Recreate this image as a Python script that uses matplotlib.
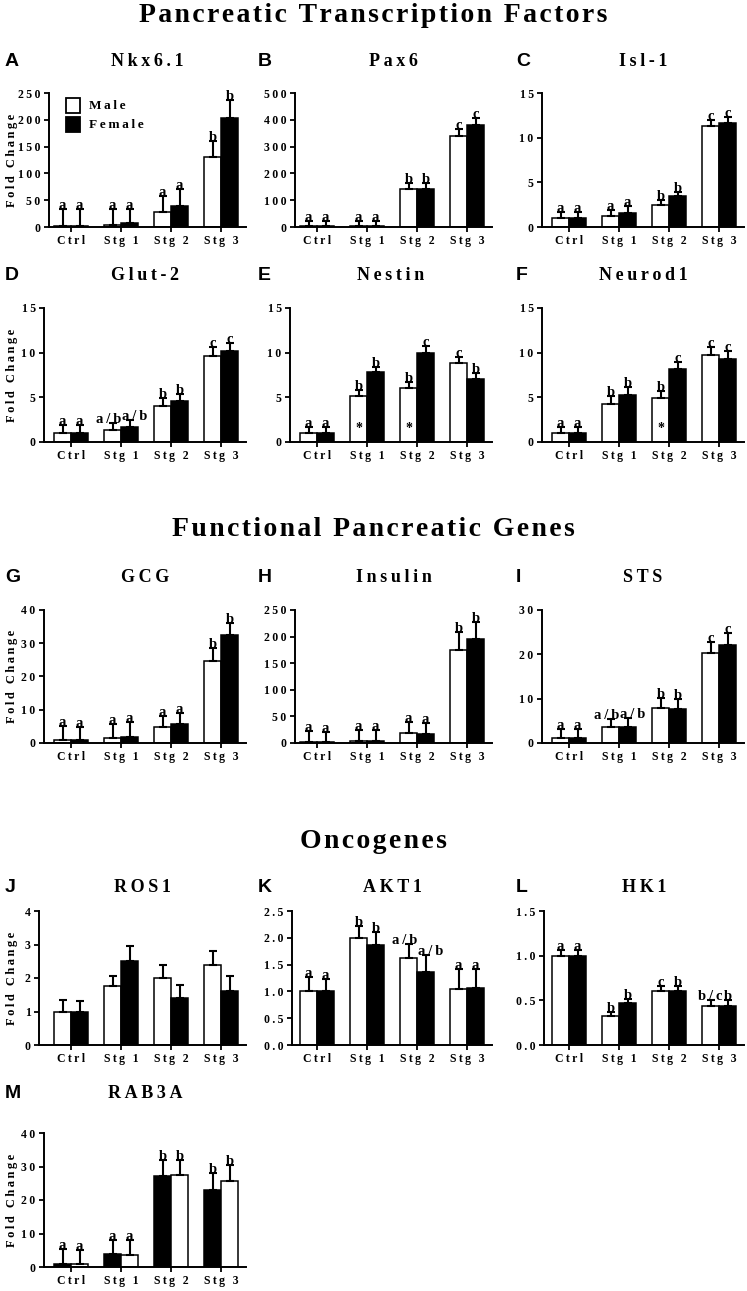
import matplotlib
matplotlib.use("Agg")
import matplotlib.pyplot as plt
from matplotlib.patches import Rectangle
import numpy as np

# ---------------- data ----------------
groups = ["Ctrl", "Stg 1", "Stg 2", "Stg 3"]

nkx_m = [1, 3, 28, 130];  nkx_f = [1, 7, 40, 204]
nkx_me = [32, 30, 29, 31]; nkx_fe = [32, 26, 30, 33]
nkx_lab = [["a", "a"], ["a", "a"], ["a", "a"], ["b", "b"]]

pax_m = [3, 4, 142, 340];  pax_f = [3, 5, 140, 380]
pax_me = [19, 18, 22, 24]; pax_fe = [19, 17, 24, 25]
pax_lab = [["a", "a"], ["a", "a"], ["b", "b"], ["c", "c"]]

isl_m = [1.05, 1.25, 2.45, 11.3]; isl_f = [1.05, 1.55, 3.5, 11.6]
isl_me = [0.65, 0.65, 0.6, 0.7];  isl_fe = [0.65, 0.75, 0.45, 0.7]
isl_lab = [["a", "a"], ["a", "a"], ["b", "b"], ["c", "c"]]

glut_m = [1.0, 1.3, 4.0, 9.6]; glut_f = [1.0, 1.7, 4.6, 10.2]
glut_me = [0.9, 0.8, 0.9, 1.0]; glut_fe = [0.9, 0.8, 0.8, 0.9]
glut_lab = [["a", "a"], ["a/b", "a/b"], ["b", "b"], ["c", "c"]]

nes_m = [1.0, 5.2, 6.1, 8.8]; nes_f = [1.0, 7.8, 10.0, 7.0]
nes_me = [0.7, 0.6, 0.6, 0.7]; nes_fe = [0.7, 0.6, 0.7, 0.7]
nes_lab = [["a", "a"], ["b", "b"], ["b", "c"], ["c", "b"]]
nes_star = [False, True, True, False]

neu_m = [1.0, 4.3, 4.9, 9.7]; neu_f = [1.0, 5.3, 8.2, 9.3]
neu_me = [0.7, 0.9, 0.8, 0.9]; neu_fe = [0.7, 0.9, 0.7, 0.9]
neu_lab = [["a", "a"], ["b", "b"], ["b", "c"], ["c", "c"]]
neu_star = [False, False, True, False]

gcg_m = [1.0, 1.4, 4.8, 24.7]; gcg_f = [1.0, 1.7, 5.7, 32.5]
gcg_me = [4.0, 4.4, 3.2, 3.8]; gcg_fe = [3.7, 4.7, 3.3, 3.7]
gcg_lab = [["a", "a"], ["a", "a"], ["a", "a"], ["b", "b"]]

ins_m = [1, 3, 18, 175]; ins_f = [1, 4, 16, 195]
ins_me = [21, 22, 22, 33]; ins_fe = [20, 21, 22, 33]
ins_lab = [["a", "a"], ["a", "a"], ["a", "a"], ["b", "b"]]

sts_m = [1.1, 3.5, 7.8, 20.2]; sts_f = [1.1, 3.7, 7.6, 22.2]
sts_me = [2.1, 1.9, 2.3, 2.6]; sts_fe = [2.1, 1.9, 2.4, 2.7]
sts_lab = [["a", "a"], ["a/b", "a/b"], ["b", "b"], ["c", "c"]]

ros_m = [1.0, 1.75, 2.0, 2.4]; ros_f = [1.0, 2.5, 1.4, 1.6]
ros_me = [0.35, 0.32, 0.4, 0.4]; ros_fe = [0.3, 0.47, 0.4, 0.45]

akt_m = [1.0, 2.0, 1.63, 1.04]; akt_f = [1.0, 1.87, 1.37, 1.07]
akt_me = [0.27, 0.22, 0.26, 0.38]; akt_fe = [0.23, 0.23, 0.31, 0.35]
akt_lab = [["a", "a"], ["b", "b"], ["a/b", "a/b"], ["a", "a"]]

hk_m = [1.0, 0.32, 0.61, 0.44]; hk_f = [1.0, 0.47, 0.61, 0.44]
hk_me = [0.06, 0.05, 0.05, 0.06]; hk_fe = [0.06, 0.05, 0.05, 0.06]
hk_lab = [["a", "a"], ["b", "b"], ["c", "b"], ["b/c", "b"]]

# RAB3A: black bar drawn first in each group
rab_f = [1.0, 3.9, 27.1, 23.0]; rab_m = [1.0, 3.7, 27.4, 25.7]
rab_fe = [4.3, 4.1, 4.9, 5.0];  rab_me = [4.0, 4.3, 4.4, 4.8]
rab_lab = [["a", "a"], ["a", "a"], ["b", "b"], ["b", "b"]]

# ---------------- style ----------------
W, H = 747, 1291
fig = plt.figure(figsize=(W / 100, H / 100), dpi=100)
SERIF = ["Liberation Serif", "DejaVu Serif"]
SANS = ["Liberation Sans", "DejaVu Sans"]
THIN = "\u2009"
HAIR = "\u200a"


def sp(s, ch=THIN):
    return ch.join(s)


def ftext(x, y, s, **kw):
    fig.text(x / W, 1 - y / H, s, **kw)


# section titles
for txt, yy in [("Pancreatic Transcription Factors", 15),
                ("Functional Pancreatic Genes", 530),
                ("Oncogenes", 841)]:
    ftext(373, yy, sp(txt, HAIR), ha="center", va="center", fontsize=20,
          fontweight="bold", family=SERIF)

col_c0 = [71, 317, 569]           # px centre of first group in each column
rows = [(93, 227, 62), (308, 442, 275), (610, 743, 577), (911, 1045, 888), (1133, 1267, 1093)]
letter_x = [5, 258, 516]
SPACING = 50.0
BW = 0.34


def panel(row, col, letter, title, m, f, me, fe, ymax, ystep, labels=None,
          stars=None, fmt="{:d}", label_off=27, first_black=False, ylabel=False):
    top, bot, ty = rows[row]
    c0 = col_c0[col]
    left = c0 - label_off
    right = c0 + 3.5 * SPACING
    ax = fig.add_axes([left / W, 1 - bot / H, (right - left) / W, (bot - top) / H])
    x = np.arange(4)
    if first_black:
        specs = [(x - BW / 2, f, fe, "black", 0), (x + BW / 2, m, me, "white", 1)]
    else:
        specs = [(x - BW / 2, m, me, "white", 0), (x + BW / 2, f, fe, "black", 1)]
    tops = [np.array(s[1]) + np.array(s[2]) for s in specs]
    for xs, vals, errs, colr, k in specs:
        ax.bar(xs, vals, width=BW, color=colr, edgecolor="black", linewidth=1.1, zorder=2)
        ax.errorbar(xs, vals, yerr=[np.zeros(4), errs], fmt="none", ecolor="black",
                    elinewidth=1.5, capsize=2.6, capthick=1.5, zorder=3)
        if labels is not None:
            for i in range(4):
                dx = 0.0
                both_long = len(labels[i][0]) > 1 and len(labels[i][1]) > 1
                close = abs(tops[0][i] - tops[1][i]) < 0.12 * ymax
                if both_long and close:
                    dx = -0.07 if k == 0 else 0.11
                ax.text(xs[i] + dx, vals[i] + errs[i], sp(labels[i][k]), ha="center",
                        va="baseline", fontsize=10.5, fontweight="bold", family=SERIF,
                        zorder=4)
    if stars is not None:
        for i in range(4):
            if stars[i]:
                ax.text(x[i] - BW / 2, ymax * 0.1, "*", ha="center", va="center",
                        fontsize=10, fontweight="bold", family=SERIF, zorder=4)
    ax.set_xlim((left - c0) / SPACING, 3.5)
    ax.set_ylim(0, ymax)
    ax.set_xticks(x)
    ax.set_xticklabels([sp(g) for g in groups], fontsize=8.5, fontweight="bold",
                       family=SERIF)
    yt = np.arange(0, ymax + ystep / 2, ystep)
    ax.set_yticks(yt)
    ax.set_yticklabels([sp(fmt.format(int(round(v))) if fmt == "{:d}" else fmt.format(v))
                        for v in yt], fontsize=8.5, fontweight="bold", family=SERIF)
    for s in ["top", "right"]:
        ax.spines[s].set_visible(False)
    for s in ["left", "bottom"]:
        ax.spines[s].set_linewidth(1.4)
    ax.tick_params(axis="both", direction="out", length=3.5, width=1.3, pad=2.5)
    ax.patch.set_alpha(0)
    # panel title & letter
    ftext((left + right) / 2, ty, sp(title), ha="center", va="center", fontsize=13,
          fontweight="bold", family=SERIF)
    ftext(letter_x[col], ty, letter, ha="left", va="center", fontsize=14,
          fontweight="bold", family=SANS)
    if ylabel:
        ftext(12, (top + bot) / 2, sp("Fold Change"), ha="center", va="center",
              rotation=90, fontsize=9, fontweight="bold", family=SERIF)
    return ax


axA = panel(0, 0, "A", "Nkx6.1", nkx_m, nkx_f, nkx_me, nkx_fe, 250, 50, nkx_lab,
            label_off=22, ylabel=True)
panel(0, 1, "B", "Pax6", pax_m, pax_f, pax_me, pax_fe, 500, 100, pax_lab, label_off=22)
panel(0, 2, "C", "Isl-1", isl_m, isl_f, isl_me, isl_fe, 15, 5, isl_lab)
panel(1, 0, "D", "Glut-2", glut_m, glut_f, glut_me, glut_fe, 15, 5, glut_lab, ylabel=True)
panel(1, 1, "E", "Nestin", nes_m, nes_f, nes_me, nes_fe, 15, 5, nes_lab, stars=nes_star)
panel(1, 2, "F", "Neurod1", neu_m, neu_f, neu_me, neu_fe, 15, 5, neu_lab, stars=neu_star)
panel(2, 0, "G", "GCG", gcg_m, gcg_f, gcg_me, gcg_fe, 40, 10, gcg_lab, ylabel=True)
panel(2, 1, "H", "Insulin", ins_m, ins_f, ins_me, ins_fe, 250, 50, ins_lab, label_off=22)
panel(2, 2, "I", "STS", sts_m, sts_f, sts_me, sts_fe, 30, 10, sts_lab)
panel(3, 0, "J", "ROS1", ros_m, ros_f, ros_me, ros_fe, 4, 1, None, label_off=32, ylabel=True)
panel(3, 1, "K", "AKT1", akt_m, akt_f, akt_me, akt_fe, 2.5, 0.5, akt_lab, fmt="{:.1f}",
      label_off=25)
panel(3, 2, "L", "HK1", hk_m, hk_f, hk_me, hk_fe, 1.5, 0.5, hk_lab, fmt="{:.1f}",
      label_off=25)
panel(4, 0, "M", "RAB3A", rab_m, rab_f, rab_me, rab_fe, 40, 10, rab_lab, first_black=True,
      ylabel=True)

# legend in panel A (drawn manually)
for yy, colr, name in [(98, "white", "Male"), (117, "black", "Female")]:
    fig.patches.append(Rectangle((66 / W, 1 - (yy + 15) / H), 14 / W, 15 / H,
                                 facecolor=colr, edgecolor="black", linewidth=1.3,
                                 transform=fig.transFigure, figure=fig))
    ftext(89, yy + 8, sp(name), ha="left", va="center", fontsize=9.5,
          fontweight="bold", family=SERIF)

fig.savefig("out.png", dpi=100)
